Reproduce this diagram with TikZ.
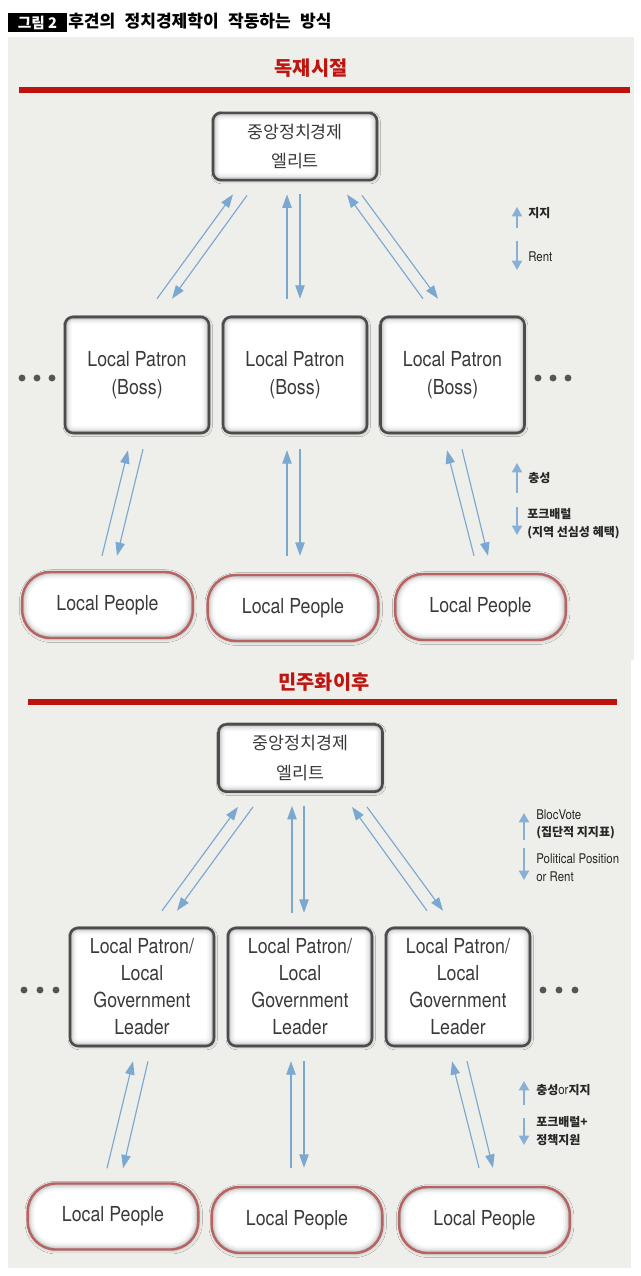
\documentclass[tikz,border=0pt]{standalone}
\usepackage{fontspec}
\usetikzlibrary{arrows.meta,calc,shadows.blur}
\setmainfont{TeX Gyre Heros}
\newfontfamily\enfont[FakeStretch=0.86]{TeX Gyre Heros}
\newfontfamily\kofont{Noto Sans CJK KR}
\definecolor{panel}{HTML}{EEEEEA}
\definecolor{redline}{HTML}{BE130D}
\definecolor{redtitle}{HTML}{C0140F}
\definecolor{arrowblue}{HTML}{7BA8D0}
\definecolor{legblue}{HTML}{86B0D6}
\definecolor{boxgray}{HTML}{4C4C4C}
\definecolor{pborder}{HTML}{B86262}
\definecolor{txt}{HTML}{3A3A3A}
\definecolor{dotgray}{HTML}{555555}
\tikzset{
  innershade/.style={path picture={
    \foreach \w/\o in {10/0.035,7/0.05,4.5/0.08,2.5/0.12}{
      \draw[line width=\w pt, black, opacity=\o, rounded corners=#1]
        (path picture bounding box.south west) rectangle (path picture bounding box.north east);
    }}},
  ebox/.style={draw=boxgray, line width=1.9pt, fill=white, rounded corners=6pt,
    innershade=6pt,
    blur shadow={shadow xshift=0.6pt, shadow yshift=-0.8pt, shadow blur radius=2pt, shadow opacity=30},
    align=center, text=txt, inner sep=0pt},
  elite/.style={ebox, minimum width=123pt, minimum height=50.5pt,
    font=\kofont\fontsize{13}{22}\selectfont},
  boss/.style={ebox, minimum width=108pt, minimum height=87pt,
    font=\enfont\fontsize{15.5}{21.5}\selectfont},
  boss2/.style={ebox, minimum width=108pt, minimum height=88.5pt,
    font=\enfont\fontsize{15.5}{20.25}\selectfont},
  pbox/.style={draw=pborder, line width=1.8pt, fill=white, rounded corners=21pt,
    innershade=21pt,
    blur shadow={shadow xshift=0.5pt, shadow yshift=-0.8pt, shadow blur radius=2.5pt, shadow opacity=25},
    font=\enfont\fontsize{15.5}{18}\selectfont, text=txt,
    minimum width=128pt, minimum height=49.5pt, inner sep=0pt},
  conn/.style={draw=arrowblue, line width=0.85pt, -{Triangle[length=10pt,width=7pt]}},
  legarrow/.style={draw=legblue, line width=1.3pt, -{Triangle[length=7pt,width=7.5pt]}},
  legko/.style={anchor=west, inner sep=0pt, text=black!85, align=left,
    font=\kofont\bfseries\fontsize{9}{13.5}\selectfont},
  legen/.style={anchor=west, inner sep=0pt, text=black!85, align=left,
    font=\enfont\fontsize{10}{13.5}\selectfont},
  header/.style={font=\kofont\bfseries\fontsize{14.8}{16}\selectfont, text=redtitle, inner sep=0pt},
}
\begin{document}
\begin{tikzpicture}[x=0.75pt,y=-0.75pt]
\useasboundingbox (0,0) rectangle (640,1276);
\fill[white] (0,0) rectangle (640,1276);
% panels
\fill[panel] (8,37) rectangle (634,660);
\fill[panel] (8,660) rectangle (631,1268);

% figure title
\node[fill=black, text=white, font=\kofont\bfseries\fontsize{11}{13}\selectfont,
  minimum width=44.25pt, minimum height=14.25pt, inner sep=0pt] (fig) at (37.5,22.5) {그림 2};
\node[anchor=west, inner sep=0pt, font=\kofont\bfseries\fontsize{12.8}{14}\selectfont] (title) at (68,21)
  {후견의\hspace{4pt} 정치경제학이\hspace{4pt} 작동하는\hspace{4pt} 방식};

% ===== top section =====
\node[header] (h1) at (311,68) {독재시절};
\draw[redline, line width=3.8pt] (19,90) -- (630,90);

\node[elite] (e1) at (295,146.5) {중앙정치경제\\엘리트};
\node[boss] (b1) at (137,375) {Local Patron\\(Boss)};
\node[boss] (b2) at (295,375) {Local Patron\\(Boss)};
\node[boss] (b3) at (452.5,375) {Local Patron\\(Boss)};
\node[pbox] (p1) at (107.5,605) {Local People};
\node[pbox] (p2) at (293,608) {Local People};
\node[pbox] (p3) at (480.5,607) {Local People};

\foreach \x in {22,37,52,538,553,568} \fill[dotgray] (\x,378) circle (2.6pt);

% elite <-> boss
\draw[conn] ($(b1.north)+(20,-17)$) -- ($(e1.south)+(-62,13)$);
\draw[conn] ($(e1.south)+(-48,14)$) -- ($(b1.north)+(35,-17)$);
\draw[conn] ($(b2.north)+(-8,-17)$) -- ($(e1.south)+(-8,13)$);
\draw[conn] ($(e1.south)+(5,13)$) -- ($(b2.north)+(5,-17)$);
\draw[conn] ($(b3.north)+(-29.5,-17)$) -- ($(e1.south)+(52,13)$);
\draw[conn] ($(e1.south)+(67,14)$) -- ($(b3.north)+(-14.5,-17)$);
% boss <-> people
\draw[conn] ($(p1.north)+(-5.5,-15)$) -- ($(b1.south)+(-9,16)$);
\draw[conn] ($(b1.south)+(6,15)$) -- ($(p1.north)+(9.5,-15)$);
\draw[conn] ($(p2.north)+(-6,-18)$) -- ($(b2.south)+(-8,16)$);
\draw[conn] ($(b2.south)+(5,15)$) -- ($(p2.north)+(7,-18)$);
\draw[conn] ($(p3.north)+(-6.5,-17)$) -- ($(b3.south)+(-5.5,16)$);
\draw[conn] ($(b3.south)+(9.5,15)$) -- ($(p3.north)+(7.5,-17)$);

% legend 1
\coordinate (l1a) at (517,228); \coordinate (l1b) at (517,207);
\coordinate (l1c) at (517,241); \coordinate (l1d) at (517,270);
\draw[legarrow] (l1a) -- (l1b);
\draw[legarrow] (l1c) -- (l1d);
\node[legko] (l1t) at (528,213) {지지};
\node[legen] (l1u) at (528,257) {Rent};
% legend 2
\coordinate (l2a) at (517,493); \coordinate (l2b) at (517,463);
\coordinate (l2c) at (517,507); \coordinate (l2d) at (517,535);
\draw[legarrow] (l2a) -- (l2b);
\draw[legarrow] (l2c) -- (l2d);
\node[legko] (l2t) at (528,478) {충성};
\node[legko] (l2u) at (527,523.5) {포크배럴\\(지역 선심성 혜택)};

% ===== bottom section =====
\node[header] (h2) at (324,682) {민주화이후};
\draw[redline, line width=3.8pt] (28,702) -- (617,702);

\node[elite] (e2) at (300.5,758) {중앙정치경제\\엘리트};
\node[boss2] (c1) at (142,987) {Local Patron/\\Local\\Government\\Leader};
\node[boss2] (c2) at (300,987) {Local Patron/\\Local\\Government\\Leader};
\node[boss2] (c3) at (458,987) {Local Patron/\\Local\\Government\\Leader};
\node[pbox] (q1) at (113,1216.5) {Local People};
\node[pbox] (q2) at (297,1220) {Local People};
\node[pbox] (q3) at (484.5,1220) {Local People};

\foreach \x in {24,40,56,543,559,575} \fill[dotgray] (\x,990) circle (2.6pt);

% elite <-> boss
\draw[conn] ($(c1.north)+(20,-16)$) -- ($(e2.south)+(-62.5,14)$);
\draw[conn] ($(e2.south)+(-47.5,14)$) -- ($(c1.north)+(35,-16)$);
\draw[conn] ($(c2.north)+(-8,-14)$) -- ($(e2.south)+(-8.5,13)$);
\draw[conn] ($(e2.south)+(3.5,13)$) -- ($(c2.north)+(4,-14)$);
\draw[conn] ($(c3.north)+(-31,-16)$) -- ($(e2.south)+(51.5,14)$);
\draw[conn] ($(e2.south)+(66.5,14)$) -- ($(c3.north)+(-15,-16)$);
% boss <-> people
\draw[conn] ($(q1.north)+(-6,-14)$) -- ($(c1.south)+(-9,14)$);
\draw[conn] ($(c1.south)+(6,14)$) -- ($(q1.north)+(10,-14)$);
\draw[conn] ($(q2.north)+(-6,-18)$) -- ($(c2.south)+(-9,14)$);
\draw[conn] ($(c2.south)+(4,14)$) -- ($(q2.north)+(7,-18)$);
\draw[conn] ($(q3.north)+(-5.5,-18)$) -- ($(c3.south)+(-6,14)$);
\draw[conn] ($(c3.south)+(9,14)$) -- ($(q3.north)+(8.5,-18)$);

% legend 3
\coordinate (l3a) at (524,840); \coordinate (l3b) at (524,813);
\coordinate (l3c) at (524,848); \coordinate (l3d) at (524,880);
\draw[legarrow] (l3a) -- (l3b);
\draw[legarrow] (l3c) -- (l3d);
\node[legen] (l3t) at (536,815) {BlocVote};
\node[legko] (l3s) at (536,833) {(집단적 지지표)};
\node[legen] (l3u) at (536,868) {Political Position\\or Rent};
% legend 4
\coordinate (l4a) at (524,1105); \coordinate (l4b) at (524,1081);
\coordinate (l4c) at (524,1118); \coordinate (l4d) at (524,1145);
\draw[legarrow] (l4a) -- (l4b);
\draw[legarrow] (l4c) -- (l4d);
\node[legko] (l4t) at (536,1090) {충성{\enfont\mdseries\fontsize{10}{13}\selectfont or}지지};
\node[legko] (l4u) at (536,1131.5) {포크배럴+\\정책지원};
\end{tikzpicture}
\end{document}
